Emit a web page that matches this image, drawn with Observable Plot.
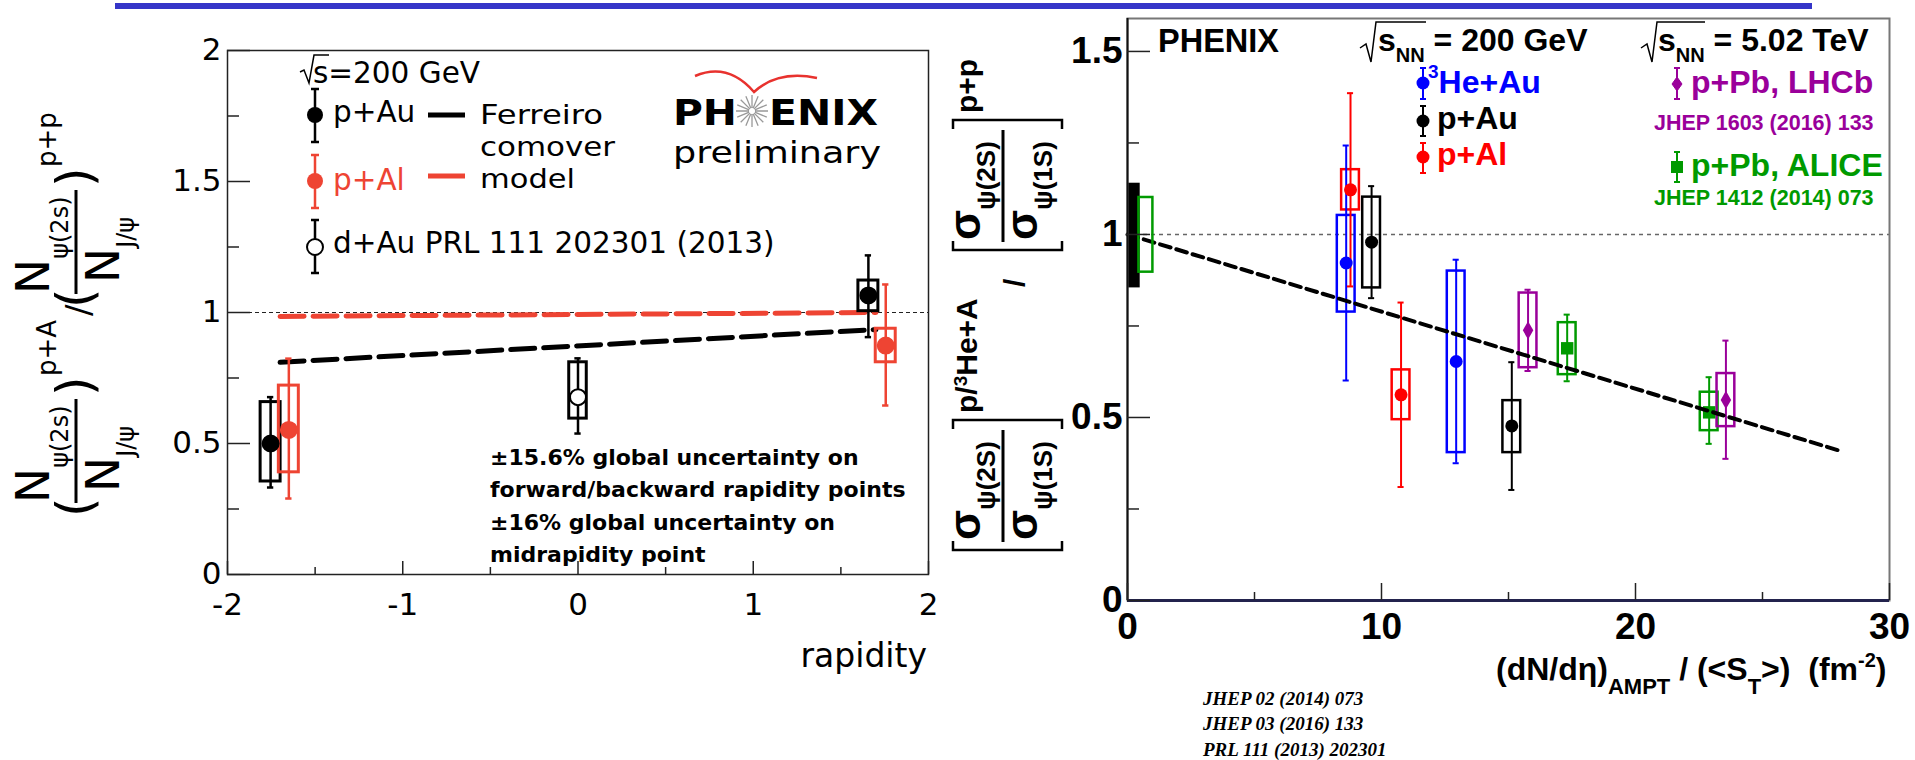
<!DOCTYPE html>
<html><head><meta charset="utf-8">
<script src="https://cdn.jsdelivr.net/npm/d3@7"></script>
<script src="https://cdn.jsdelivr.net/npm/@observablehq/plot@0.6"></script>
<style>
html,body{margin:0;padding:0;background:#fff;}
#wrap{position:relative;width:1915px;height:760px;overflow:hidden;background:#fff;}
#left,#right,#overlay{position:absolute;top:0;}
#left{left:0;} #right{left:940px;} #overlay{left:0;pointer-events:none;}
</style></head>
<body><div id="wrap"><div id="left"></div><div id="right"></div><svg id="overlay" width="1915" height="760"></svg></div>
<script>
// ---------------- Left panel: psi(2S)/J/psi double ratio vs rapidity ----------------
const leftSystems  = ["p+Au", "p+Al", "d+Au", "p+Au", "p+Al"];
const leftRapidity = [-1.754, -1.65, 0.0, 1.657, 1.756];
const leftRatio    = [0.50, 0.552, 0.677, 1.065, 0.874];
const leftStatLow  = [0.332, 0.29, 0.538, 0.906, 0.645];
const leftStatHigh = [0.677, 0.824, 0.825, 1.218, 1.107];
const leftSysLow   = [0.355, 0.39, 0.595, 1.005, 0.81];
const leftSysHigh  = [0.658, 0.721, 0.81, 1.122, 0.938];
const modelRapidity = [-1.7, 1.7];
const modelPAu = [0.81, 0.935];
const modelPAl = [0.985, 1.0];
const leftXTicks = [-2, -1, 0, 1, 2];
const leftXMinorTicks = [-1.5, -0.5, 0.5, 1.5];
const leftYTicks = [0, 0.5, 1, 1.5, 2];
const leftYMinorTicks = [0.25, 0.75, 1.25, 1.75];

// ---------------- Right panel: ratio vs (dN/deta)/<S_T> ----------------
const rightSystems  = ["3He+Au", "p+Al", "p+Au", "p+Al", "3He+Au", "p+Au", "p+Pb LHCb", "p+Pb ALICE", "p+Pb ALICE", "p+Pb LHCb"];
const rightDensity  = [8.61, 8.78, 9.61, 10.77, 12.94, 15.13, 15.77, 17.31, 22.9, 23.56];
const rightRatio    = [0.922, 1.122, 0.979, 0.562, 0.653, 0.477, 0.738, 0.689, 0.514, 0.548];
const rightStatLow  = [0.601, 0.858, 0.826, 0.310, 0.375, 0.302, 0.627, 0.599, 0.428, 0.387];
const rightStatHigh = [1.243, 1.386, 1.132, 0.814, 0.931, 0.651, 0.849, 0.781, 0.61, 0.710];
const rightSysLow   = [0.788, 1.067, 0.854, 0.494, 0.404, 0.404, 0.636, 0.617, 0.464, 0.475];
const rightSysHigh  = [1.052, 1.177, 1.102, 0.630, 0.900, 0.546, 0.840, 0.759, 0.569, 0.620];
const globalNames = ["PHENIX", "ALICE"];
const globalX1 = [0, 0.45];
const globalX2 = [0.5, 1.0];
const globalLow = [0.854, 0.897];
const globalHigh = [1.14, 1.101];
const fitDensity = [0, 28];
const fitRatio = [1.0, 0.41];
const rightXTicks = [0, 10, 20, 30];
const rightXMinorTicks = [5, 15, 25];
const rightYTicks = [0, 0.5, 1, 1.5];
const rightYMinorTicks = [0.25, 0.75, 1.25];

// ---------------- styling ----------------
const LRED = "#ee4433";
const leftColor = {"p+Au": "#000000", "p+Al": LRED, "d+Au": "#000000"};
const rightColor = {"3He+Au": "#0000ff", "p+Au": "#000000", "p+Al": "#ff0000", "p+Pb LHCb": "#9a009a", "p+Pb ALICE": "#009a00"};
const rightSymbol = {"3He+Au": "circle", "p+Au": "circle", "p+Al": "circle", "p+Pb LHCb": "diamond", "p+Pb ALICE": "square"};
const LIB = "'Liberation Sans', Arial, Helvetica, sans-serif";
const DJV = "'DejaVu Sans', Verdana, sans-serif";

const L = leftSystems.map((s, i) => ({system: s, x: leftRapidity[i], y: leftRatio[i], lo: leftStatLow[i], hi: leftStatHigh[i], slo: leftSysLow[i], shi: leftSysHigh[i], color: leftColor[s], hw: s === "d+Au" ? 0.05 : 0.057}));
const modelAu = modelRapidity.map((x, i) => ({x, y: modelPAu[i]}));
const modelAl = modelRapidity.map((x, i) => ({x, y: modelPAl[i]}));

const R = rightSystems.map((s, i) => ({system: s, x: rightDensity[i], y: rightRatio[i], lo: rightStatLow[i], hi: rightStatHigh[i], slo: rightSysLow[i], shi: rightSysHigh[i], color: rightColor[s], symbol: rightSymbol[s]}));
const G = globalNames.map((n, i) => ({name: n, x1: globalX1[i], x2: globalX2[i], y1: globalLow[i], y2: globalHigh[i]}));
const fit = fitDensity.map((x, i) => ({x, y: fitRatio[i]}));

// ---------------- Left plot ----------------
const LW = 940, LH = 700, LML = 227, LMR = 12, LMT = 50, LMB = 126;
const lfw = LW - LML - LMR, lfh = LH - LMT - LMB;
const leftPlot = Plot.plot({
  width: LW, height: LH, marginLeft: LML, marginRight: LMR, marginTop: LMT, marginBottom: LMB,
  style: {fontFamily: DJV, fontSize: "31px", background: "transparent", color: "#000", overflow: "visible"},
  x: {domain: [-2, 2]}, y: {domain: [0, 2]}, color: {type: "identity"},
  marks: [
    Plot.ruleY([1], {stroke: "#222", strokeWidth: 1.2, strokeDasharray: "4,3"}),
    Plot.line(modelAl, {x: "x", y: "y", stroke: LRED, strokeWidth: 5, strokeDasharray: "24,9"}),
    Plot.line(modelAu, {x: "x", y: "y", stroke: "#000", strokeWidth: 5, strokeDasharray: "24,9"}),
    Plot.rect(L, {x1: d => d.x - d.hw, x2: d => d.x + d.hw, y1: "slo", y2: "shi", fill: "none", stroke: "color", strokeWidth: 3}),
    Plot.ruleX(L, {x: "x", y1: "lo", y2: "hi", stroke: "color", strokeWidth: 2.5}),
    Plot.ruleY(L, {y: "lo", x1: d => d.x - 0.018, x2: d => d.x + 0.018, stroke: "color", strokeWidth: 2.5}),
    Plot.ruleY(L, {y: "hi", x1: d => d.x - 0.018, x2: d => d.x + 0.018, stroke: "color", strokeWidth: 2.5}),
    Plot.dot(L, {x: "x", y: "y", r: 8, fill: d => d.system === "d+Au" ? "#ffffff" : d.color, stroke: "color", strokeWidth: 2}),
    Plot.frame({stroke: "#222", strokeWidth: 1.5}),
    Plot.tickY(leftYTicks, {y: d => d, insetRight: lfw - 23, stroke: "#222", strokeWidth: 1.5}),
    Plot.tickY(leftYMinorTicks, {y: d => d, insetRight: lfw - 12, stroke: "#222", strokeWidth: 1.5}),
    Plot.tickX(leftXTicks, {x: d => d, insetTop: lfh - 13, stroke: "#222", strokeWidth: 1.5}),
    Plot.tickX(leftXMinorTicks, {x: d => d, insetTop: lfh - 7, stroke: "#222", strokeWidth: 1.5}),
    Plot.axisY(leftYTicks, {tickSize: 0, tickPadding: 6, fontSize: 31, tickFormat: d => String(d), label: null}),
    Plot.axisX(leftXTicks, {tickSize: 0, tickPadding: 18, fontSize: 31, tickFormat: d => String(d), label: null})
  ]
});
document.getElementById("left").appendChild(leftPlot);

// ---------------- Right plot ----------------
const RW = 975, RH = 760, RML = 187, RMR = 26, RMT = 18, RMB = 160;
const rfw = RW - RML - RMR, rfh = RH - RMT - RMB;
const capR = 0.12, boxR = 0.35;
const rightPlot = Plot.plot({
  width: RW, height: RH, marginLeft: RML, marginRight: RMR, marginTop: RMT, marginBottom: RMB,
  style: {fontFamily: LIB, fontSize: "37px", fontWeight: "bold", background: "transparent", color: "#000", overflow: "visible"},
  x: {domain: [0, 30]}, y: {domain: [0, 1.59]}, color: {type: "identity"},
  marks: [
    Plot.ruleY([1], {stroke: "#666", strokeWidth: 1.5, strokeDasharray: "4,4"}),
    Plot.rect(R, {x1: d => d.x - boxR, x2: d => d.x + boxR, y1: "slo", y2: "shi", fill: "none", stroke: "color", strokeWidth: 2.5}),
    Plot.ruleX(R, {x: "x", y1: "lo", y2: "hi", stroke: "color", strokeWidth: 2}),
    Plot.ruleY(R, {y: "lo", x1: d => d.x - capR, x2: d => d.x + capR, stroke: "color", strokeWidth: 2}),
    Plot.ruleY(R, {y: "hi", x1: d => d.x - capR, x2: d => d.x + capR, stroke: "color", strokeWidth: 2}),
    Plot.dot(R.filter(d => d.symbol === "circle"), {x: "x", y: "y", r: 6.5, fill: "color", symbol: "circle"}),
    Plot.dot(R.filter(d => d.symbol === "diamond"), {x: "x", y: "y", r: 5.5, fill: "color", symbol: "diamond"}),
    Plot.dot(R.filter(d => d.symbol === "square"), {x: "x", y: "y", r: 7, fill: "color", symbol: "square"}),
    Plot.line(fit, {x: "x", y: "y", stroke: "#000", strokeWidth: 4, strokeDasharray: "11,6"}),
    Plot.rect(G.filter(d => d.name === "PHENIX"), {x1: "x1", x2: "x2", y1: "y1", y2: "y2", fill: "#000"}),
    Plot.rect(G.filter(d => d.name === "ALICE"), {x1: "x1", x2: "x2", y1: "y1", y2: "y2", fill: "none", stroke: "#009a00", strokeWidth: 2.5}),
    Plot.frame({stroke: "#777", strokeWidth: 2}),
    Plot.ruleX([0], {stroke: "#111", strokeWidth: 2}),
    Plot.ruleY([0], {stroke: "#23234d", strokeWidth: 3}),
    Plot.tickY(rightYTicks, {y: d => d, insetRight: rfw - 23, stroke: "#222", strokeWidth: 1.5}),
    Plot.tickY(rightYMinorTicks, {y: d => d, insetRight: rfw - 12, stroke: "#222", strokeWidth: 1.5}),
    Plot.tickX(rightXTicks, {x: d => d, insetTop: rfh - 17, stroke: "#222", strokeWidth: 1.5}),
    Plot.tickX(rightXMinorTicks, {x: d => d, insetTop: rfh - 8, stroke: "#222", strokeWidth: 1.5}),
    Plot.axisY(rightYTicks, {tickSize: 0, tickPadding: 5, fontSize: 37, fontWeight: "bold", tickFormat: d => String(d), label: null}),
    Plot.axisX(rightXTicks, {tickSize: 0, tickPadding: 12, fontSize: 37, fontWeight: "bold", tickFormat: d => String(d), label: null})
  ]
});
document.getElementById("right").appendChild(rightPlot);

// ---------------- Overlay: titles, legends, axis titles ----------------
const ov = d3.select("#overlay");
function T(parent, x, y, s, o = {}) {
  const t = parent.append("text").attr("x", x).attr("y", y)
    .style("font-family", o.ff || DJV)
    .style("font-size", (o.fs || 29.5) + "px")
    .style("font-weight", o.fw || "normal")
    .style("font-style", o.fst || "normal")
    .style("white-space", "pre")
    .attr("fill", o.fill || "#000")
    .attr("text-anchor", o.anchor || "start");
  if (o.len) t.attr("textLength", o.len).attr("lengthAdjust", "spacingAndGlyphs");
  if (s !== null) t.text(s);
  return t;
}
function span(t, s, o = {}) {
  const sp = t.append("tspan").text(s);
  if (o.dy != null) sp.attr("dy", o.dy);
  if (o.fs) sp.style("font-size", o.fs + "px");
  if (o.fill) sp.attr("fill", o.fill);
  return sp;
}
function path(parent, d, stroke, w, fill = "none") {
  return parent.append("path").attr("d", d).attr("stroke", stroke).attr("stroke-width", w).attr("fill", fill);
}
function errbar(x, y1, y2, color, w, cap) {
  path(ov, `M${x},${y1}V${y2}M${x - cap},${y1}H${x + cap}M${x - cap},${y2}H${x + cap}`, color, w);
}

// top blue bar
ov.append("rect").attr("x", 115).attr("y", 3).attr("width", 1697).attr("height", 6).attr("fill", "#3535c8");

// ----- left y-axis title (rotated) -----
const gL = ov.append("g").attr("transform", "translate(76,310) rotate(-90)");
function leftFrac(g, x0, sup) {
  T(g, x0, 16, "(", {fs: 50});
  const num = T(g, x0 + 14, -27, "N", {fs: 47});
  span(num, "ψ(2s)", {dy: 19, fs: 24});
  g.append("line").attr("x1", x0 + 14).attr("x2", x0 + 118).attr("y1", 0).attr("y2", 0).attr("stroke", "#000").attr("stroke-width", 3);
  const den = T(g, x0 + 25, 43, "N", {fs: 47});
  span(den, "J/ψ", {dy: 15, fs: 24});
  T(g, x0 + 121, 16, ")", {fs: 50});
  T(g, x0 + 141, -20, sup, {fs: 26});
}
leftFrac(gL, -207, "p+A");
T(gL, -6, 14, "/", {fs: 34});
leftFrac(gL, 2, "p+p");

// ----- left legend -----
path(ov, "M300,72L304,70L309,83L314,55L329,55", "#000", 1.5);
T(ov, 313, 83, "s=200 GeV");
errbar(315, 89, 142, "#000", 2.5, 4);
ov.append("circle").attr("cx", 315).attr("cy", 115).attr("r", 8).attr("fill", "#000");
T(ov, 333, 122, "p+Au");
errbar(315, 155, 208, LRED, 2.5, 4);
ov.append("circle").attr("cx", 315).attr("cy", 181).attr("r", 8).attr("fill", LRED);
T(ov, 333, 190, "p+Al", {fill: LRED});
errbar(315, 220, 273, "#000", 2.5, 4);
ov.append("circle").attr("cx", 315).attr("cy", 247).attr("r", 8).attr("fill", "#fff").attr("stroke", "#000").attr("stroke-width", 2);
T(ov, 333, 253, "d+Au PRL 111 202301 (2013)");
path(ov, "M428,115H465", "#000", 5);
path(ov, "M428,176H465", LRED, 5);
T(ov, 480, 124, "Ferreiro", {fs: 27, len: 123});
T(ov, 480, 156, "comover", {fs: 27, len: 135});
T(ov, 480, 188, "model", {fs: 27, len: 95});

// PHENIX preliminary logo
path(ov, "M695,76Q728,62 754,92Q778,70 817,78", "#e8322e", 2.5);
T(ov, 673, 125, "PH", {fs: 35, fw: "bold", len: 64});
(function () {
  let d = "";
  for (let k = 0; k < 16; k++) {
    const a = k * Math.PI / 8, r1 = 3, r2 = 16;
    d += `M${752 + r1 * Math.cos(a)},${111 + r1 * Math.sin(a)}L${752 + r2 * Math.cos(a)},${111 + r2 * Math.sin(a)}`;
  }
  path(ov, d, "#999", 1.3);
})();
T(ov, 769, 125, "ENIX", {fs: 35, fw: "bold", len: 109});
T(ov, 673, 163, "preliminary", {fs: 31, len: 208});

// global uncertainty note
T(ov, 490, 465, "±15.6% global uncertainty on", {fs: 22, fw: "bold"});
T(ov, 490, 497, "forward/backward rapidity points", {fs: 22, fw: "bold"});
T(ov, 490, 530, "±16% global uncertainty on", {fs: 22, fw: "bold"});
T(ov, 490, 562, "midrapidity point", {fs: 22, fw: "bold"});

// left x title
T(ov, 927, 667, "rapidity", {fs: 33, anchor: "end"});

// ----- right y-axis title (rotated) -----
const gR = ov.append("g").attr("transform", "translate(1005,305) rotate(-90)");
function rightFrac(g, x0, supParts) {
  path(g, `M${x0 + 9},-52H${x0}V57H${x0 + 9}`, "#000", 2.5);
  const num = T(g, x0 + 10, -25, "σ", {ff: LIB, fw: "bold", fs: 44});
  span(num, "ψ(2S)", {dy: 15, fs: 26});
  g.append("line").attr("x1", x0 + 8).attr("x2", x0 + 120).attr("y1", -2).attr("y2", -2).attr("stroke", "#000").attr("stroke-width", 3);
  const den = T(g, x0 + 10, 32, "σ", {ff: LIB, fw: "bold", fs: 44});
  span(den, "ψ(1S)", {dy: 15, fs: 26});
  path(g, `M${x0 + 121},-52H${x0 + 130}V57H${x0 + 121}`, "#000", 2.5);
  const s = T(g, x0 + 137, -28, supParts[0], {ff: LIB, fw: "bold", fs: 30});
  if (supParts.length > 1) {
    span(s, supParts[1], {dy: -10, fs: 19});
    span(s, supParts[2], {dy: 10, fs: 30});
  }
}
rightFrac(gR, -245, ["p/", "3", "He+A"]);
T(gR, 18, 20, "/", {ff: LIB, fw: "bold", fs: 30});
rightFrac(gR, 55, ["p+p"]);

// ----- right headers & legend -----
T(ov, 1158, 52, "PHENIX", {ff: LIB, fw: "bold", fs: 32.5});
path(ov, "M1360,48L1366,44L1371,62L1376,22L1426,22", "#000", 1.5);
{ const t = T(ov, 1378, 51, "s", {ff: LIB, fw: "bold", fs: 32}); span(t, "NN", {dy: 11, fs: 20}); span(t, " = 200 GeV", {dy: -11, fs: 32}); }
path(ov, "M1641,48L1647,44L1652,62L1657,22L1705,22", "#000", 1.5);
{ const t = T(ov, 1658, 51, "s", {ff: LIB, fw: "bold", fs: 32}); span(t, "NN", {dy: 11, fs: 20}); span(t, " = 5.02 TeV", {dy: -11, fs: 32}); }

errbar(1423, 68, 99, "#0000ff", 2, 3);
ov.append("circle").attr("cx", 1423).attr("cy", 83).attr("r", 6.5).attr("fill", "#0000ff");
{ const t = T(ov, 1428, 78, "3", {ff: LIB, fw: "bold", fs: 19, fill: "#0000ff"}); span(t, "He+Au", {dy: 15, fs: 32}); }
errbar(1423, 106, 136, "#000", 2, 3);
ov.append("circle").attr("cx", 1423).attr("cy", 121).attr("r", 6.5).attr("fill", "#000");
T(ov, 1437, 129, "p+Au", {ff: LIB, fw: "bold", fs: 32});
errbar(1423, 143, 173, "#ff0000", 2, 3);
ov.append("circle").attr("cx", 1423).attr("cy", 157).attr("r", 6.5).attr("fill", "#ff0000");
T(ov, 1437, 165, "p+Al", {ff: LIB, fw: "bold", fs: 32, fill: "#ff0000"});

errbar(1677, 68, 99, "#9a009a", 2, 3);
path(ov, "M1677,77L1682,84L1677,91L1672,84Z", "#9a009a", 1, "#9a009a");
T(ov, 1691, 93, "p+Pb, LHCb", {ff: LIB, fw: "bold", fs: 32, fill: "#9a009a"});
T(ov, 1654, 130, "JHEP 1603 (2016) 133", {ff: LIB, fw: "bold", fs: 21.5, fill: "#9a009a"});
errbar(1677, 152, 182, "#009a00", 2, 3);
ov.append("rect").attr("x", 1671).attr("y", 161).attr("width", 12).attr("height", 12).attr("fill", "#009a00");
T(ov, 1691, 176, "p+Pb, ALICE", {ff: LIB, fw: "bold", fs: 32, fill: "#009a00"});
T(ov, 1654, 205, "JHEP 1412 (2014) 073", {ff: LIB, fw: "bold", fs: 21.5, fill: "#009a00"});

// right x title
{
  const t = T(ov, 1496, 680, "(dN/dη)", {ff: LIB, fw: "bold", fs: 32});
  span(t, "AMPT", {dy: 14, fs: 22});
  span(t, " / (<S", {dy: -14, fs: 32});
  span(t, "T", {dy: 14, fs: 22});
  span(t, ">)  (fm", {dy: -14, fs: 32});
  span(t, "-2", {dy: -13, fs: 20});
  span(t, ")", {dy: 13, fs: 32});
}

// references
const RS = "'Liberation Serif', 'Times New Roman', serif";
T(ov, 1203, 705, "JHEP 02 (2014) 073", {ff: RS, fw: "bold", fst: "italic", fs: 19});
T(ov, 1203, 730, "JHEP 03 (2016) 133", {ff: RS, fw: "bold", fst: "italic", fs: 19});
T(ov, 1203, 756, "PRL 111 (2013) 202301", {ff: RS, fw: "bold", fst: "italic", fs: 19});
</script>
</body></html>
